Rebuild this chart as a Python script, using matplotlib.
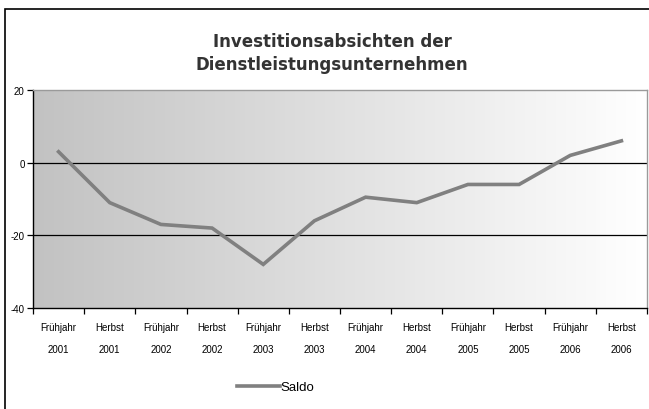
import numpy as np
import matplotlib
matplotlib.use("Agg")
import matplotlib.pyplot as plt
from matplotlib.patches import Rectangle
from matplotlib.colors import LinearSegmentedColormap

seasons = ["Frühjahr", "Herbst"] * 6
years = ["2001", "2001", "2002", "2002", "2003", "2003",
         "2004", "2004", "2005", "2005", "2006", "2006"]
saldo = [3, -11, -17, -18, -28, -16, -9.5, -11, -6, -6, 2, 6]
title = "Investitionsabsichten der\nDienstleistungsunternehmen"
yticks = [-40, -20, 0, 20]

plt.rcParams['font.family'] = ['Liberation Sans', 'DejaVu Sans']

W, H = 649, 410
fig = plt.figure(figsize=(W / 100, H / 100), dpi=100)

# outer frame (extends past right/bottom edge)
fig.patches.append(Rectangle((5 / W, -0.1), 1.2, (H - 10) / H + 0.1,
                             transform=fig.transFigure, fill=False,
                             edgecolor='black', linewidth=1.2))

ax = fig.add_axes([33 / W, (H - 309) / H, (647 - 33) / W, (309 - 91) / H])
n = len(saldo)
x = np.arange(n)
ax.set_xlim(-0.5, n - 0.5)
ax.set_ylim(-40, 20)

cmap = LinearSegmentedColormap.from_list("g", ["#c2c2c2", "#ffffff"])
grad = np.linspace(0, 1, 256).reshape(1, -1)
ax.imshow(grad, cmap=cmap, aspect='auto', extent=(-0.5, n - 0.5, -40, 20),
          zorder=0, interpolation='bilinear')

for g in [0, -20]:
    ax.axhline(g, color='black', linewidth=0.9, zorder=1)

line, = ax.plot(x, saldo, color='#808080', linewidth=2.6, zorder=3,
                solid_joinstyle='miter', label='Saldo')

ax.set_yticks(yticks)
ax.set_yticklabels([str(v) for v in yticks], fontsize=7)
ax.set_xticks(np.arange(-0.5, n, 1.0))
ax.set_xticklabels([])
ax.set_xticks(x, minor=True)
ax.set_xticklabels([f"{s}\n\n{y}" for s, y in zip(seasons, years)],
                   minor=True, fontsize=7, linespacing=1.15)
ax.tick_params(axis='x', which='major', direction='out', length=4, width=0.9)
ax.tick_params(axis='x', which='minor', length=0, pad=10)
ax.tick_params(axis='y', direction='out', length=4, width=0.9, pad=2)

for side in ['left', 'bottom']:
    ax.spines[side].set_color('black')
    ax.spines[side].set_linewidth(1.0)
for side in ['top', 'right']:
    ax.spines[side].set_color('#9a9a9a')
    ax.spines[side].set_linewidth(1.0)

fig.text(332 / W, 1 - 53.5 / H, title, ha='center', va='center',
         fontsize=12, fontweight='bold', color='#333333', linespacing=1.4,
         family=['DejaVu Sans'])

leg = fig.legend(handles=[line], loc='center',
                 bbox_to_anchor=(276 / W, 1 - 388 / H), frameon=False,
                 fontsize=9.5, handlelength=3.2, handletextpad=0.1)

fig.savefig("out.png", dpi=100)
